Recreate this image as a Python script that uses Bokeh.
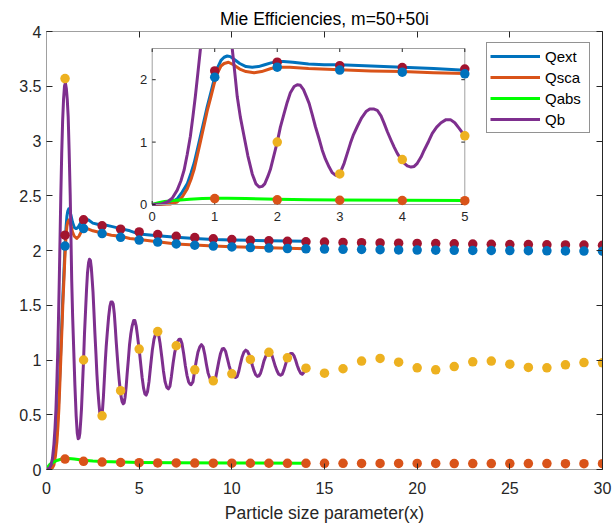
import numpy as np
from bokeh.plotting import figure
from bokeh.models import (Range1d, LinearAxis, FixedTicker, CustomJSTickFormatter,
                          Legend, LegendItem)
from bokeh.embed import file_html
from bokeh.resources import INLINE
from bokeh.core.properties import value

# ---------------- data ----------------
title_text = "Mie Efficiencies, m=50+50i"
x_label = "Particle size parameter(x)"
series_names = ["Qext", "Qsca", "Qabs", "Qb"]

# continuous curves
qb_x = [0.0, 0.15, 0.24, 0.32, 0.40, 0.46, 0.51, 0.56, 0.61, 0.65, 0.69, 0.73, 0.77, 0.82,
        0.87, 0.92, 0.97, 1.02, 1.07, 1.12, 1.17, 1.22, 1.28, 1.32, 1.36, 1.41, 1.47, 1.53,
        1.60, 1.66, 1.71, 1.76, 1.80, 1.85, 1.89, 1.95, 2.00, 2.05, 2.11, 2.16, 2.21, 2.27,
        2.32, 2.37, 2.42, 2.47, 2.51, 2.56, 2.61, 2.67, 2.72, 2.77, 2.83, 2.88, 2.93, 2.97,
        3.02, 3.07, 3.12, 3.17, 3.22, 3.28, 3.35, 3.42, 3.48, 3.55, 3.60, 3.66, 3.71, 3.76,
        3.82, 3.87, 3.92, 3.97, 4.02, 4.08, 4.14, 4.19, 4.24, 4.30, 4.35, 4.42, 4.48, 4.55,
        4.62, 4.70, 4.77, 4.84, 4.91, 4.96, 5.00, 5.08, 5.16, 5.24, 5.31, 5.38, 5.45, 5.53,
        5.62, 5.71, 5.80, 5.89, 5.97, 6.05, 6.13, 6.22, 6.31, 6.40, 6.49, 6.58, 6.66, 6.74,
        6.83, 6.92, 7.00, 7.08, 7.16, 7.23, 7.31, 7.40, 7.49, 7.58, 7.67, 7.74, 7.80, 7.90,
        8.00, 8.08, 8.17, 8.27, 8.36, 8.45, 8.54, 8.63, 8.72, 8.82, 8.92, 9.03, 9.12, 9.21,
        9.30, 9.39, 9.48, 9.57, 9.66, 9.75, 9.85, 9.94, 10.02, 10.11, 10.20, 10.29, 10.38,
        10.47, 10.56, 10.65, 10.75, 10.84, 10.93, 11.02, 11.11, 11.20, 11.29, 11.38, 11.46,
        11.55, 11.64, 11.73, 11.82, 11.91, 12.00, 12.08, 12.17, 12.26, 12.35, 12.44, 12.53,
        12.63, 12.72, 12.81, 12.90, 13.00, 13.08, 13.17, 13.26, 13.35, 13.44, 13.53, 13.62,
        13.71, 13.80, 13.90, 14.00]
qb_y = [0.0, 0.01, 0.04, 0.10, 0.23, 0.38, 0.55, 0.80, 1.09, 1.40, 1.73, 2.10, 2.48, 2.88,
        3.18, 3.38, 3.50, 3.53, 3.48, 3.38, 3.22, 2.92, 2.50, 2.12, 1.73, 1.40, 1.09, 0.78,
        0.49, 0.33, 0.28, 0.29, 0.33, 0.45, 0.56, 0.80, 1.00, 1.24, 1.46, 1.64, 1.79, 1.89,
        1.92, 1.91, 1.84, 1.72, 1.62, 1.44, 1.25, 1.05, 0.87, 0.73, 0.60, 0.51, 0.47, 0.47,
        0.54, 0.66, 0.82, 0.98, 1.12, 1.25, 1.39, 1.49, 1.53, 1.53, 1.51, 1.42, 1.30, 1.17,
        1.03, 0.92, 0.82, 0.74, 0.67, 0.62, 0.60, 0.61, 0.66, 0.76, 0.87, 1.01, 1.14, 1.24,
        1.31, 1.36, 1.36, 1.31, 1.22, 1.15, 1.10, 0.97, 0.84, 0.74, 0.69, 0.68, 0.71, 0.80,
        0.95, 1.09, 1.19, 1.24, 1.255, 1.23, 1.15, 1.03, 0.90, 0.80, 0.75, 0.737, 0.76, 0.85,
        0.97, 1.07, 1.126, 1.17, 1.19, 1.19, 1.15, 1.06, 0.95, 0.86, 0.80, 0.78, 0.775, 0.80,
        0.91, 0.99, 1.07, 1.12, 1.14, 1.12, 1.05, 0.96, 0.88, 0.83, 0.805, 0.80, 0.83, 0.91,
        0.99, 1.06, 1.10, 1.105, 1.08, 1.02, 0.95, 0.90, 0.874, 0.85, 0.84, 0.85, 0.90,
        0.97, 1.03, 1.07, 1.09, 1.08, 1.05, 1.005, 0.95, 0.90, 0.865, 0.85, 0.855,
        0.88, 0.93, 0.99, 1.03, 1.06, 1.07, 1.065, 1.04, 0.99, 0.94, 0.90, 0.87,
        0.86, 0.87, 0.91, 0.96, 1.02, 1.04, 1.06, 1.06, 1.04, 1.00, 0.95, 0.91,
        0.88, 0.87, 0.89, 0.925]

qext_x = [0.0, 0.2, 0.3, 0.4, 0.48, 0.56, 0.62, 0.67, 0.72, 0.77, 0.83, 0.88, 0.94, 0.99, 1.05,
          1.1, 1.15, 1.2, 1.25, 1.32, 1.4, 1.5, 1.6, 1.7, 1.8, 1.9, 2.0, 2.1, 2.25, 2.5, 2.75,
          3.0, 3.5, 4.0, 4.5, 5.0, 6.0, 7.0, 8.0, 9.0, 10.0, 11.0, 12.0, 13.0, 14.0]
qext_y = [0.0, 0.01, 0.03, 0.09, 0.20, 0.33, 0.50, 0.66, 0.87, 1.09, 1.35, 1.57, 1.80, 2.00, 2.20,
          2.31, 2.36, 2.38, 2.37, 2.32, 2.26, 2.21, 2.20, 2.21, 2.24, 2.27, 2.29, 2.29, 2.28, 2.25, 2.24,
          2.24, 2.22, 2.20, 2.18, 2.15, 2.135, 2.12, 2.11, 2.10, 2.097, 2.093, 2.09, 2.087, 2.085]

qsca_x = [0.0, 0.3, 0.4, 0.48, 0.56, 0.62, 0.67, 0.72, 0.77, 0.83, 0.88, 0.94, 0.99, 1.05, 1.1,
          1.15, 1.22, 1.3, 1.4, 1.5, 1.63, 1.75, 1.9, 2.0, 2.2, 2.5, 3.0, 3.5, 4.0, 4.5, 5.0,
          6.0, 7.0, 8.0, 9.0, 10.0, 11.0, 12.0, 13.0, 14.0]
qsca_y = [0.0, 0.01, 0.04, 0.12, 0.25, 0.40, 0.56, 0.78, 1.00, 1.27, 1.50, 1.73, 1.93, 2.12, 2.22,
          2.26, 2.28, 2.24, 2.17, 2.13, 2.11, 2.13, 2.18, 2.20, 2.20, 2.18, 2.16, 2.14, 2.13, 2.11, 2.10,
          2.08, 2.06, 2.05, 2.04, 2.035, 2.03, 2.025, 2.02, 2.015]

qabs_x = [0.0, 0.1, 0.2, 0.4, 0.6, 0.8, 1.0, 1.2, 1.5, 2.0, 2.5, 3.0, 4.0, 5.0, 7.0, 10.0, 14.0]
qabs_y = [0.0, 0.03, 0.05, 0.07, 0.085, 0.095, 0.10, 0.10, 0.095, 0.085, 0.078, 0.073, 0.068,
          0.065, 0.062, 0.060, 0.058]

# markers at integer size parameters
dot_x = list(range(1, 31))
dot_ext = [2.14, 2.28, 2.225, 2.195, 2.17, 2.145, 2.13, 2.118, 2.107, 2.10, 2.093, 2.088, 2.084,
           2.08, 2.077, 2.074, 2.071, 2.069, 2.067, 2.065, 2.063, 2.061, 2.059, 2.057, 2.055,
           2.054, 2.052, 2.051, 2.05, 2.048]
dot_sca = [2.04, 2.20, 2.155, 2.12, 2.095, 2.077, 2.06, 2.048, 2.04, 2.033, 2.027, 2.022, 2.018,
           2.015, 2.013, 2.011, 2.009, 2.007, 2.005, 2.004, 2.003, 2.002, 2.001, 2.0, 1.999,
           1.998, 1.997, 1.996, 1.995, 1.994]
dot_abs = [0.095, 0.075, 0.068, 0.064, 0.062, 0.06, 0.06, 0.059, 0.058, 0.058, 0.057, 0.057,
           0.056, 0.056, 0.056, 0.056, 0.055, 0.055, 0.055, 0.055, 0.055, 0.054, 0.054, 0.054,
           0.054, 0.054, 0.054, 0.053, 0.053, 0.053]
dot_b = [3.57, 1.00, 0.49, 0.72, 1.10, 1.26, 1.13, 0.91, 0.81, 0.874, 1.005, 1.07, 1.02, 0.925,
         0.88, 0.92, 0.99, 1.014, 0.98, 0.929, 0.91, 0.94, 0.983, 0.99, 0.962, 0.932, 0.929,
         0.956, 0.977, 0.974]

x_ticks = [0, 5, 10, 15, 20, 25, 30]
y_ticks = [0, 0.5, 1, 1.5, 2, 2.5, 3, 3.5, 4]
inset_x_ticks = [0, 1, 2, 3, 4, 5]
inset_y_ticks = [0, 1, 2]

# ---------------- styling / layout ----------------
C_EXT, C_SCA, C_ABS, C_B = "#0072BD", "#D95319", "#00FF00", "#7E2F8E"
C_DOT_EXT, C_DOT_SCA, C_DOT_ABS, C_DOT_B = "#A2142F", "#0072BD", "#D95319", "#EDB120"
FONT = "Liberation Sans"
TXT = "#262626"
BOX = "#a0a0a0"
LW = 3
MS = 9.5

W, H = 616, 525
FL, FR, FT, FB = 46, 602, 31, 469          # frame edges in pixels
X0, X1, Y0, Y1 = 0, 30, 0, 4
IL, IR, IT, IB = 151.7, 464.3, 48, 204     # inset box in pixels
IX0, IX1, IY0, IY1 = 0, 5, 0, 2.5

p = figure(width=W, height=H, output_backend="svg", toolbar_location=None,
           x_range=Range1d(X0, X1), y_range=Range1d(Y0, Y1),
           x_axis_location=None, y_axis_location=None,
           min_border_left=FL, min_border_right=W - FR,
           min_border_top=FT, min_border_bottom=H - FB)
p.outline_line_color = None
p.background_fill_color = "white"
p.border_fill_color = "white"
p.xgrid.visible = False
p.ygrid.visible = False

fmt = CustomJSTickFormatter(code="return tick.toString();")
blank_fmt = CustomJSTickFormatter(code="return '';")


def make_axis(ticks, labels=True, line_color=BOX):
    ax = LinearAxis(ticker=FixedTicker(ticks=ticks), formatter=fmt if labels else blank_fmt,
                    major_tick_in=6, major_tick_out=0, minor_tick_in=0, minor_tick_out=0,
                    major_tick_line_color=TXT, axis_line_color=line_color,
                    major_label_text_font=FONT, major_label_text_color=TXT)
    if labels:
        ax.major_label_text_font_size = "16px"
    else:
        ax.major_label_text_font_size = "1px"
        ax.major_label_standoff = 0
    return ax


ax_b = make_axis(x_ticks)
ax_b.major_label_standoff = 12
ax_b.axis_label = x_label
ax_b.axis_label_text_font = FONT
ax_b.axis_label_text_font_size = "17.5px"
ax_b.axis_label_text_font_style = "normal"
ax_b.axis_label_text_color = TXT
ax_b.axis_label_standoff = 6
p.add_layout(ax_b, "below")

ax_l = make_axis(y_ticks)
ax_l.major_label_standoff = 5
p.add_layout(ax_l, "left")

p.add_layout(make_axis(x_ticks, labels=False), "above")
p.add_layout(make_axis(y_ticks, labels=False, line_color=TXT), "right")

p.title.text = title_text
p.title.align = "center"
p.title.text_font = FONT
p.title.text_font_size = "17.5px"
p.title.text_font_style = "normal"
p.title.text_color = "#000000"
p.title.standoff = 6

# ---------------- main plot ----------------
r_ext = p.line(qext_x, qext_y, line_color=C_EXT, line_width=LW, line_join="round")
r_sca = p.line(qsca_x, qsca_y, line_color=C_SCA, line_width=LW, line_join="round")
r_abs = p.line(qabs_x, qabs_y, line_color=C_ABS, line_width=LW, line_join="round")
r_b = p.line(qb_x, qb_y, line_color=C_B, line_width=LW, line_join="round")

for ys, col in [(dot_ext, C_DOT_EXT), (dot_sca, C_DOT_SCA), (dot_abs, C_DOT_ABS), (dot_b, C_DOT_B)]:
    p.scatter(dot_x, ys, size=MS, fill_color=col, line_color=None)

# ---------------- inset (own ranges mapped onto the inset box) ----------------
sx = (IR - IL) / (IX1 - IX0)
sy = (IB - IT) / (IY1 - IY0)
p.extra_x_ranges = {"ix": Range1d(IX0 - (IL - FL) / sx, IX1 + (FR - IR) / sx)}
p.extra_y_ranges = {"iy": Range1d(IY0 - (FB - IB) / sy, IY1 + (IT - FT) / sy)}
ik = dict(x_range_name="ix", y_range_name="iy")

p.quad(left=[IX0], right=[IX1], bottom=[IY0], top=[IY1], fill_color="white",
       line_color=None, **ik)


def clip(xs, ys):
    """Keep the part of a curve inside the inset box (x <= IX1, y <= IY1)."""
    ox, oy = [], []
    xs = [x for x in xs if x <= IX1]
    ys = ys[:len(xs)]
    for i, (x, y) in enumerate(zip(xs, ys)):
        if i > 0:
            xp, yp = xs[i - 1], ys[i - 1]
            if (yp - IY1) * (y - IY1) < 0:
                xc = xp + (IY1 - yp) * (x - xp) / (y - yp)
                ox.append(xc)
                oy.append(IY1)
                if y > IY1:
                    ox.append(np.nan)
                    oy.append(np.nan)
        if y <= IY1:
            ox.append(x)
            oy.append(y)
    return ox, oy


for xs, ys, col in [(qext_x, qext_y, C_EXT), (qsca_x, qsca_y, C_SCA),
                    (qabs_x, qabs_y, C_ABS), (qb_x, qb_y, C_B)]:
    cx, cy = clip(xs, ys)
    p.line(cx, cy, line_color=col, line_width=LW, line_join="round", **ik)

p.quad(left=[IX0], right=[IX1], bottom=[IY0], top=[IY1], fill_color=None,
       line_color=BOX, line_width=1, **ik)

tl_x = 3.5 / sy
tl_y = 3.5 / sx
bx = [t for t in inset_x_ticks]
p.segment(x0=bx, y0=[IY0] * len(bx), x1=bx, y1=[IY0 + tl_x] * len(bx), line_color=TXT, **ik)
p.segment(x0=bx, y0=[IY1] * len(bx), x1=bx, y1=[IY1 - tl_x] * len(bx), line_color=TXT, **ik)
by = [t for t in inset_y_ticks]
p.segment(x0=[IX0] * len(by), y0=by, x1=[IX0 + tl_y] * len(by), y1=by, line_color=TXT, **ik)
p.segment(x0=[IX1] * len(by), y0=by, x1=[IX1 - tl_y] * len(by), y1=by, line_color=TXT, **ik)

for ys, col in [(dot_ext, C_DOT_EXT), (dot_sca, C_DOT_SCA), (dot_abs, C_DOT_ABS), (dot_b, C_DOT_B)]:
    px = [x for x, y in zip(dot_x, ys) if x <= IX1 and y <= IY1]
    py = [y for x, y in zip(dot_x, ys) if x <= IX1 and y <= IY1]
    p.scatter(px, py, size=MS, fill_color=col, line_color=None, **ik)

p.text(x=bx, y=[IY0] * len(bx), text=[str(t) for t in inset_x_ticks],
       text_align="center", text_baseline="top", y_offset=7,
       text_font=value(FONT), text_font_size="13px", text_color=TXT, **ik)
p.text(x=[IX0] * len(by), y=by, text=[str(t) for t in inset_y_ticks],
       text_align="right", text_baseline="middle", x_offset=-5,
       text_font=value(FONT), text_font_size="13px", text_color=TXT, **ik)

# ---------------- legend ----------------
legend = Legend(items=[LegendItem(label=n, renderers=[r]) for n, r in
                       zip(series_names, [r_ext, r_sca, r_abs, r_b])],
                location=(486 - FL, FB - 133), orientation="vertical",
                border_line_color=TXT, border_line_width=1,
                background_fill_color="white", background_fill_alpha=1.0,
                label_text_font=FONT, label_text_font_size="15px", label_text_color="#000000",
                glyph_width=50, glyph_height=20, label_height=20, label_width=41,
                label_standoff=5, spacing=1, padding=3, margin=0)
p.add_layout(legend)

open("out.html", "w").write(file_html(p, INLINE))
